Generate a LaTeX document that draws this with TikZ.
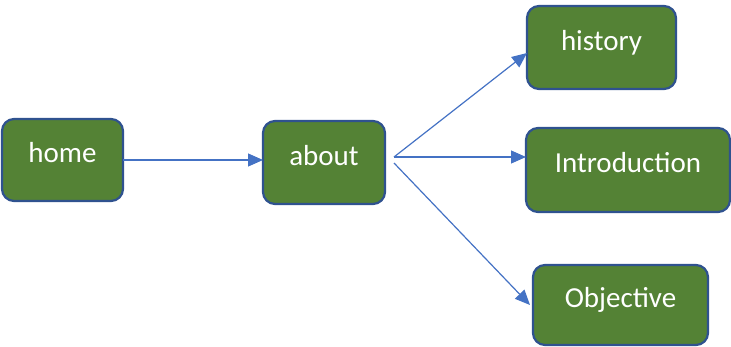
\documentclass[tikz,border=0pt]{standalone}
\usepackage{fontspec}
\setmainfont{Carlito}
\usetikzlibrary{arrows.meta}
\definecolor{pagegreen}{HTML}{548235}
\definecolor{pageedge}{HTML}{2F528F}
\definecolor{linkblue}{HTML}{4472C4}
\begin{document}
\begin{tikzpicture}[x=1pt,y=-1pt,
  page/.style={draw=pageedge,fill=pagegreen,line width=2.2pt,rounded corners=12pt,
    text=white,font=\fontsize{29}{34}\selectfont,text height=13pt,text depth=7pt,
    inner sep=0pt,outer sep=0pt},
  link/.style={draw=linkblue,line width=1.2pt,-{Triangle[length=15pt,width=13pt]}}]
\useasboundingbox (0,0) rectangle (731,347);
\node[page,minimum width=121pt,minimum height=82pt] (home) at (62.5,160) {home};
\node[page,minimum width=122pt,minimum height=83pt] (about) at (324,162.5) {about};
\node[page,minimum width=149pt,minimum height=83pt] (history) at (601.5,47.5) {history};
\node[page,minimum width=204pt,minimum height=84pt] (intro) at (628,170) {Introduction};
\node[page,minimum width=175pt,minimum height=80pt] (objective) at (620.5,305) {Objective};
\coordinate (fork) at (394,157);
\coordinate (forklow) at (394,163);
\draw[link] (home.east) -- (home.east -| about.west);
\draw[link] (fork) -- ([yshift=-5.5pt]history.west);
\draw[link] (fork) -- (fork -| intro.west);
\draw[link] (forklow) -- ([xshift=-3pt]objective.west);
\end{tikzpicture}
\end{document}
